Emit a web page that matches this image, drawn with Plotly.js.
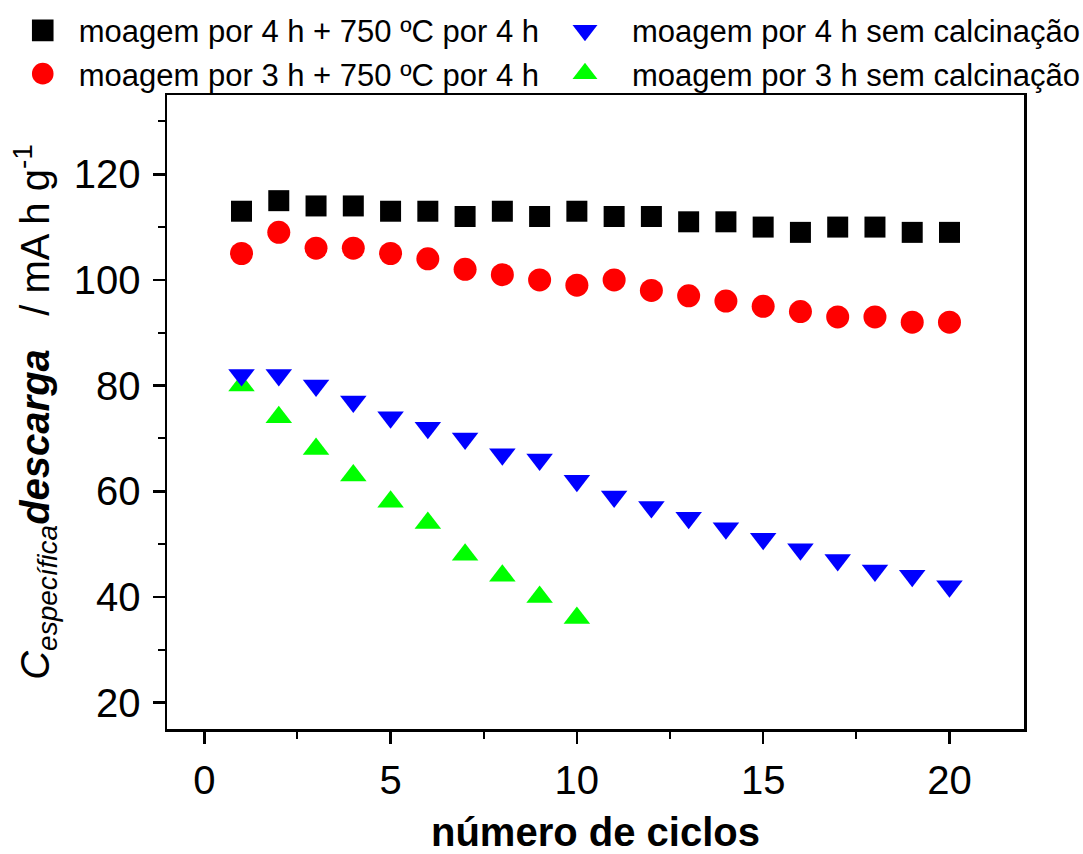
<!DOCTYPE html>
<html>
<head>
<meta charset="utf-8">
<script src="https://cdn.plot.ly/plotly-3.0.1.min.js"></script>
<style>
  html, body { margin: 0; padding: 0; background: #ffffff; }
  #chart { width: 1083px; height: 854px; }
</style>
</head>
<body>
<div id="chart"></div>
<script>
// ---- data ----
const cyclesAll = [1,2,3,4,5,6,7,8,9,10,11,12,13,14,15,16,17,18,19,20];
const cycles10 = [1,2,3,4,5,6,7,8,9,10];

const name4hCalc = 'moagem por 4 h + 750 ºC por 4 h';
const name3hCalc = 'moagem por 3 h + 750 ºC por 4 h';
const name4hNoCalc = 'moagem por 4 h sem calcinação';
const name3hNoCalc = 'moagem por 3 h sem calcinação';

const cap4hCalc = [113,115,114,114,113,113,112,113,112,113,112,112,111,111,110,109,110,110,109,109];
const cap3hCalc = [105,109,106,106,105,104,102,101,100,99,100,98,97,96,95,94,93,93,92,92];
const cap4hNoCalc = [82,82,80,77,74,72,70,67,66,62,59,57,55,53,51,49,47,45,44,42];
const cap3hNoCalc = [80,74,68,63,58,54,48,44,40,36];

const xTickVals = [0,5,10,15,20];
const yTickVals = [20,40,60,80,100,120];

const FONT = 'Arial, "Liberation Sans", sans-serif';

const traces = [
  { x: cyclesAll, y: cap4hCalc, name: name4hCalc, type: 'scatter', mode: 'markers',
    marker: { symbol: 'square', size: 21, color: '#000000' }, legend: 'legend', legendrank: 1 },
  { x: cyclesAll, y: cap3hCalc, name: name3hCalc, type: 'scatter', mode: 'markers',
    marker: { symbol: 'circle', size: 23, color: '#ff0000' }, legend: 'legend', legendrank: 2 },
  { x: cycles10, y: cap3hNoCalc, name: name3hNoCalc, type: 'scatter', mode: 'markers',
    marker: { symbol: 'triangle-up', size: 23, color: '#00ff00' }, legend: 'legend2', legendrank: 2 },
  { x: cyclesAll, y: cap4hNoCalc, name: name4hNoCalc, type: 'scatter', mode: 'markers',
    marker: { symbol: 'triangle-down', size: 23, color: '#0000ff' }, legend: 'legend2', legendrank: 1 }
];

const axisCommon = {
  showgrid: false, zeroline: false,
  showline: true, linecolor: '#000', linewidth: 2.5, mirror: true,
  ticks: 'outside', ticklen: 12, tickwidth: 2.5, tickcolor: '#000',
  tickfont: { family: FONT, size: 40, color: '#000' }
};

const legendCommon = {
  orientation: 'v', xanchor: 'left', y: 1.144, yanchor: 'top',
  font: { family: FONT, size: 31, color: '#000' },
  bgcolor: 'rgba(0,0,0,0)', borderwidth: 0, tracegroupgap: 0
};

const layout = {
  width: 1083, height: 854,
  paper_bgcolor: '#ffffff', plot_bgcolor: '#ffffff',
  margin: { l: 167, r: 59, t: 95, b: 125, autoexpand: false },
  showlegend: true,
  xaxis: Object.assign({}, axisCommon, {
    range: [-1, 22], tickmode: 'array', tickvals: xTickVals,
    ticklabelstandoff: 2,
    minor: { dtick: 2.5, tick0: 0, ticks: 'outside', ticklen: 7, tickwidth: 2, tickcolor: '#000' },
    title: { text: '<b>número de ciclos</b>', font: { family: FONT, size: 40, color: '#000' }, standoff: 26 }
  }),
  yaxis: Object.assign({}, axisCommon, {
    range: [15, 135], tickmode: 'array', tickvals: yTickVals,
    ticklabelstandoff: 4,
    minor: { dtick: 10, tick0: 0, ticks: 'outside', ticklen: 7, tickwidth: 2, tickcolor: '#000' },
    title: { text: '<i>C</i><sub><i>específica</i></sub><b><i>descarga</i></b>&nbsp;&nbsp;&nbsp;/ mA h g<sup>-1</sup>',
             font: { family: FONT, size: 40, color: '#000' }, standoff: 12 }
  }),
  legend: Object.assign({}, legendCommon, { x: -0.187, itemwidth: 62 }),
  legend2: Object.assign({}, legendCommon, { x: 0.4329, itemwidth: 84 })
};

Plotly.newPlot('chart', traces, layout, { displayModeBar: false, staticPlot: true }).then(function (gd) {
  // enlarge legend symbols (Plotly caps legend marker size at 16)
  gd.querySelectorAll('.legendpoints path.scatterpts').forEach(function (p) {
    const t = p.getAttribute('transform') || '';
    p.setAttribute('transform', t + ' scale(1.35)');
  });
});
</script>
</body>
</html>
